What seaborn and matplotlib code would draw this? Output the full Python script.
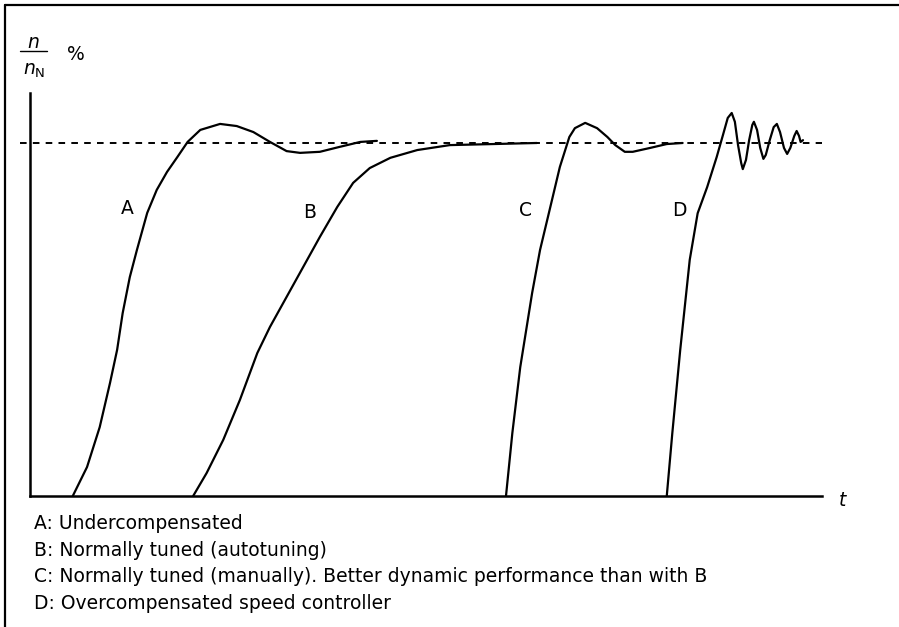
import numpy as np
import pandas as pd
import seaborn as sns
import matplotlib.pyplot as plt
from matplotlib.lines import Line2D

# speed response curves, t in arbitrary units, n/nN in %
a_t = [0.54, 0.72, 0.88, 1.01, 1.10, 1.17, 1.26, 1.35, 1.48, 1.60, 1.73, 1.86,
       1.99, 2.15, 2.40, 2.61, 2.82, 3.03, 3.24, 3.41, 3.66, 3.91, 4.17, 4.38]
a_n = [0.0, 8.2, 19.5, 32.0, 41.4, 51.8, 62.0, 69.7, 80.2, 86.7, 91.8, 96.0,
       100.3, 103.7, 105.4, 104.8, 103.1, 100.3, 97.7, 97.2, 97.5, 98.9, 100.3, 100.6]

b_t = [2.06, 2.23, 2.44, 2.65, 2.87, 3.03, 3.24, 3.45, 3.66, 3.88, 4.08, 4.29,
       4.55, 4.89, 5.30, 6.40]
b_n = [0.0, 6.5, 15.9, 27.2, 40.5, 47.9, 56.4, 64.9, 73.4, 81.9, 88.7, 92.9,
       95.8, 98.0, 99.4, 100.0]

c_t = [6.01, 6.09, 6.19, 6.34, 6.44, 6.57, 6.69, 6.81, 6.88, 7.01, 7.16, 7.29,
       7.39, 7.51, 7.61, 7.83, 8.04, 8.24]
c_n = [0.0, 17.8, 36.5, 57.5, 69.7, 81.9, 93.2, 101.7, 104.2, 105.7, 104.2, 101.7,
       99.4, 97.5, 97.5, 98.6, 99.7, 100.0]

d_t = [8.04, 8.11, 8.21, 8.33, 8.43, 8.55, 8.67, 8.75, 8.81, 8.86, 8.90, 8.94,
       8.98, 9.00, 9.04, 9.08, 9.12, 9.14, 9.18, 9.22, 9.26, 9.29, 9.34, 9.39,
       9.43, 9.47, 9.52, 9.56, 9.60, 9.65, 9.68, 9.71, 9.73, 9.76]
d_n = [0.0, 17.8, 41.4, 66.9, 80.1, 87.5, 96.0, 102.3, 107.1, 108.5, 106.0, 99.4,
       94.3, 92.6, 95.2, 100.8, 105.1, 106.0, 103.7, 98.6, 95.5, 96.6, 100.8, 104.5,
       105.4, 103.1, 98.6, 96.9, 98.6, 102.0, 103.4, 102.0, 100.3, 100.8]

curve_names = ["A", "B", "C", "D"]
label_t = [1.23, 3.53, 6.25, 8.20]
label_n = [79.9, 78.8, 79.3, 79.3]
notes = ["A: Undercompensated",
         "B: Normally tuned (autotuning)",
         "C: Normally tuned (manually). Better dynamic performance than with B",
         "D: Overcompensated speed controller"]
setpoint = 100

frames = []
for name, t, n in zip(curve_names, [a_t, b_t, c_t, d_t], [a_n, b_n, c_n, d_n]):
    frames.append(pd.DataFrame({"t": t, "n": n, "curve": name}))
df = pd.concat(frames, ignore_index=True)

sns.set_style("white")
plt.rcParams['font.family'] = ['DejaVu Sans']
plt.rcParams['text.color'] = 'black'
W, H = 899, 627
fig = plt.figure(figsize=(W / 100, H / 100), dpi=100)
ax = fig.add_axes([30 / W, (H - 496) / H, 792 / W, 403 / H])

sns.lineplot(data=df, x="t", y="n", hue="curve", palette=["black"] * 4,
             sort=False, estimator=None, legend=False, lw=1.6, ax=ax)
for ln in ax.lines:
    ln.set_solid_joinstyle("round")
    ln.set_solid_capstyle("round")
ax.hlines(setpoint, -0.126, 10, colors="black", lw=1.4,
          linestyles=(0, (3.4, 3.2)), clip_on=False)

for name, x, y in zip(curve_names, label_t, label_n):
    ax.text(x, y, name, ha="center", va="baseline", fontsize=13.5, color="black")

ax.set_xlim(0, 10)
ax.set_ylim(0, 114.16)
ax.set_xticks([])
ax.set_yticks([])
ax.set_xlabel("")
ax.set_ylabel("")
sns.despine(ax=ax)
for s in ["left", "bottom"]:
    ax.spines[s].set_linewidth(1.8)
    ax.spines[s].set_color("black")


def fx(px):
    return px / W


def fy(py):
    return 1 - py / H


# frame
fig.add_artist(Line2D([fx(5), fx(5)], [fy(5), 0], color="black", lw=1.6))
fig.add_artist(Line2D([fx(5), 1], [fy(5), fy(5)], color="black", lw=1.6))

# axis labels
fig.text(fx(33), fy(43), "n", style="italic", ha="center", va="center", fontsize=13.5)
fig.add_artist(Line2D([fx(20), fx(47)], [fy(51), fy(51)], color="black", lw=1.0))
fig.text(fx(34), fy(70), r"$n_{\mathrm{N}}$", ha="center", va="center", fontsize=13.5)
fig.text(fx(76), fy(55), "%", ha="center", va="center", fontsize=13.5)
fig.text(fx(842), fy(500), "t", style="italic", ha="center", va="center", fontsize=13.5)

for i, line in enumerate(notes):
    fig.text(fx(34), fy(529 + i * 26.7), line, ha="left", va="baseline", fontsize=13.5)

fig.savefig("out.png", dpi=100)
